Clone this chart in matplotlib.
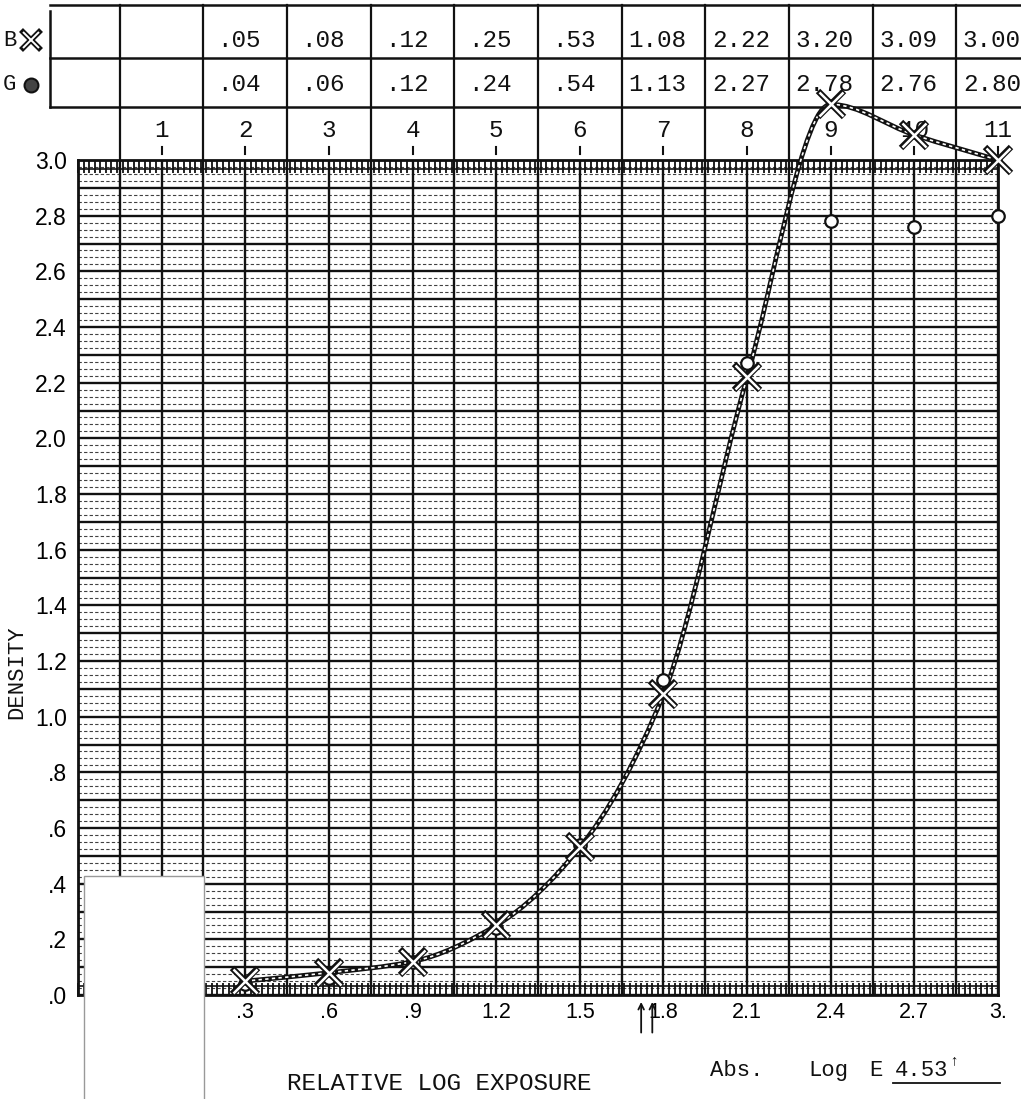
import numpy as np
import matplotlib.pyplot as plt
from matplotlib.path import Path
from matplotlib.patches import PathPatch, Rectangle
from matplotlib.lines import Line2D
from matplotlib.ticker import MultipleLocator

# step wedge readings (blue filter = B, green filter = G)
steps = [1, 2, 3, 4, 5, 6, 7, 8, 9, 10, 11]
log_e = [0.0, 0.3, 0.6, 0.9, 1.2, 1.5, 1.8, 2.1, 2.4, 2.7, 3.0]
b_density = [None, 0.05, 0.08, 0.12, 0.25, 0.53, 1.08, 2.22, 3.20, 3.09, 3.00]
g_density = [None, 0.04, 0.06, 0.12, 0.24, 0.54, 1.13, 2.27, 2.78, 2.76, 2.80]

x_ticks = [0.3, 0.6, 0.9, 1.2, 1.5, 1.8, 2.1, 2.4, 2.7, 3.0]
x_labels = ['.3', '.6', '.9', '1.2', '1.5', '1.8', '2.1', '2.4', '2.7', '3.']
y_ticks = [0.0, 0.2, 0.4, 0.6, 0.8, 1.0, 1.2, 1.4, 1.6, 1.8, 2.0, 2.2, 2.4, 2.6, 2.8, 3.0]
y_labels = ['.0', '.2', '.4', '.6', '.8', '1.0', '1.2', '1.4', '1.6', '1.8',
            '2.0', '2.2', '2.4', '2.6', '2.8', '3.0']
arrow_marks = [1.72, 1.76]
abs_log_e = '4.53'

MONO = ['Liberation Mono', 'DejaVu Sans Mono']
SANS = ['Liberation Sans', 'DejaVu Sans']
INK = '#111111'

W, H = 1021, 1099
fig = plt.figure(figsize=(W / 100, H / 100), dpi=100)
ax = fig.add_axes([78 / W, 1 - 995 / H, 920 / W, 835 / H])
ax.set_xlim(-0.3, 3.0)
ax.set_ylim(0, 3.0)

# graph paper: heavy lines every .15 / .1, dashed rulings every .025
vmaj = np.arange(-0.3, 3.0001, 0.15)
hmaj = np.arange(0, 3.0001, 0.1)
hmin = np.array([v for v in np.arange(0, 3.0001, 0.025) if abs(v / 0.1 - round(v / 0.1)) > 0.01])
ax.hlines(hmin, -0.3, 3.0, color=INK, lw=0.8, linestyles=(0, (3, 2)), alpha=0.8, zorder=1)
ax.vlines(vmaj, 0, 3.0, color=INK, lw=1.7, zorder=1.5)
ax.hlines(hmaj, -0.3, 3.0, color=INK, lw=1.7, zorder=1.5)
# ruler bands along top and bottom
ax.axhline(0.032, color=INK, lw=1.2, zorder=1.5)
ax.axhline(2.968, color=INK, lw=1.2, zorder=1.5)

for s in ax.spines.values():
    s.set_linewidth(2)
    s.set_color(INK)

ax.set_xticks(x_ticks)
ax.set_xticklabels(x_labels, family=SANS, fontsize=15.5)
ax.xaxis.set_minor_locator(MultipleLocator(0.02))
ax.tick_params(axis='x', which='both', direction='in', top=True, bottom=True,
               length=9, width=1.3, color=INK, pad=5)
ax.set_yticks(y_ticks)
ax.set_yticklabels(y_labels, family=SANS, fontsize=16.5)
ax.tick_params(axis='y', length=0, pad=8)

# smooth hand-drawn style curve through the B readings (monotone cubic)
xs = np.array(log_e[1:])
ys = np.array(b_density[1:], dtype=float)
d = np.diff(ys) / np.diff(xs)
m = np.zeros_like(ys)
m[0], m[-1] = d[0], d[-1]
for i in range(1, len(ys) - 1):
    if d[i - 1] * d[i] > 0:
        m[i] = 2 / (1 / d[i - 1] + 1 / d[i])
verts = [(xs[0], ys[0])]
codes = [Path.MOVETO]
for i in range(len(xs) - 1):
    h = xs[i + 1] - xs[i]
    verts += [(xs[i] + h / 3, ys[i] + m[i] * h / 3),
              (xs[i + 1] - h / 3, ys[i + 1] - m[i + 1] * h / 3),
              (xs[i + 1], ys[i + 1])]
    codes += [Path.CURVE4] * 3
curve = Path(verts, codes)
ax.add_patch(PathPatch(curve, fill=False, ec=INK, lw=3.4, zorder=3, clip_on=False))
ax.add_patch(PathPatch(curve, fill=False, ec='white', lw=1.2, ls=(0, (2, 2)), zorder=3.1, clip_on=False))

gx = [x for x, g in zip(log_e, g_density) if g is not None]
gy = [g for g in g_density if g is not None]
ax.plot(gx, gy, 'o', ms=9, mfc='white', mec=INK, mew=1.6, zorder=4, clip_on=False)
ax.plot(xs, ys, 'x', ms=19, mew=4.5, color=INK, zorder=5, clip_on=False)
ax.plot(xs, ys, 'x', ms=17, mew=1.8, color='white', zorder=5.1, clip_on=False)

# data table above the graph
t_left, t_right = -0.40, 3.3
row_top, row_mid, row_bot = 3.557, 3.367, 3.19
for yy in (row_top, row_mid, row_bot):
    ax.plot([t_left, t_right], [yy, yy], color=INK, lw=1.8, clip_on=False)
ax.plot([t_left, t_left], [row_bot, row_top - 0.02], color=INK, lw=1.8, clip_on=False)
for x in log_e:
    ax.plot([x - 0.15, x - 0.15], [3.0, row_top], color=INK, lw=1.6, clip_on=False)
for st, x, b, g in zip(steps, log_e, b_density, g_density):
    ax.text(x, 3.105, str(st), family=MONO, fontsize=17.5, ha='center', va='center', color=INK)
    ax.plot([x, x], [3.02, 3.045], color=INK, lw=1.5, clip_on=False)
    if b is not None:
        ax.text(x - 0.022, 3.43, f'{b:.2f}'.lstrip('0'), family=MONO, fontsize=17.5,
                ha='center', va='center', color=INK)
    if g is not None:
        ax.text(x - 0.022, 3.27, f'{g:.2f}'.lstrip('0'), family=MONO, fontsize=17.5,
                ha='center', va='center', color=INK)
ax.text(-0.545, 3.43, 'B', family=MONO, fontsize=16, ha='center', va='center', color=INK)
ax.text(-0.545, 3.27, 'G', family=MONO, fontsize=16, ha='center', va='center', color=INK)
ax.plot([-0.468], [3.43], 'x', ms=14, mew=4, color=INK, clip_on=False)
ax.plot([-0.468], [3.43], 'x', ms=12, mew=1.4, color='white', clip_on=False)
ax.plot([-0.468], [3.27], 'o', ms=10, mfc='#444444', mec=INK, mew=1.5, clip_on=False)

# arrows under the exposure axis
for x in arrow_marks:
    ax.annotate('', xy=(x, -0.015), xytext=(x, -0.145), xycoords='data',
                arrowprops=dict(arrowstyle='->', lw=1.3, color=INK), annotation_clip=False)

fig.text(27 / W, 1 - 672 / H, 'DENSITY', rotation=90, family=MONO, fontsize=16,
         ha='right', va='center', color=INK)
fig.text(439 / W, 1 - 1083 / H, 'RELATIVE LOG EXPOSURE', family=MONO, fontsize=17.5,
         ha='center', va='center', color=INK)
fig.text(710 / W, 1 - 1076 / H, 'Abs.', family=MONO, fontsize=16, va='baseline', color=INK)
fig.text(808 / W, 1 - 1076 / H, 'Log', family=MONO, fontsize=16, va='baseline', color=INK)
fig.text(869 / W, 1 - 1076 / H, 'E', family=MONO, fontsize=16, va='baseline', color=INK)
fig.text(895 / W, 1 - 1076 / H, abs_log_e, family=MONO, fontsize=16, va='baseline', color=INK)
fig.text(949 / W, 1 - 1064 / H, '\u2191', family=MONO, fontsize=11, va='baseline', color=INK)
fig.add_artist(Line2D([893 / W, 1000 / W], [1 - 1083 / H, 1 - 1083 / H], color=INK, lw=1.3))

# blank patch in the lower left corner of the scan
fig.add_artist(Rectangle((84 / W, -0.01), 120 / W, (H - 876) / H + 0.01,
                         transform=fig.transFigure, fc='white', ec='#999999', lw=1, zorder=20))

fig.savefig('out.png', dpi=100, facecolor='white')
